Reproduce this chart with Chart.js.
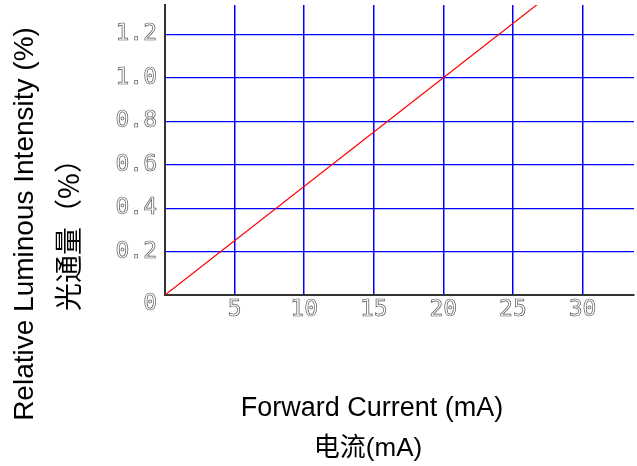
<!DOCTYPE html>
<html>
<head>
<meta charset="utf-8">
<script src="https://cdn.jsdelivr.net/npm/chart.js@4/dist/chart.umd.min.js"></script>
<style>
  html, body { margin: 0; padding: 0; background: #fff; }
  #wrap { width: 637px; height: 466px; }
</style>
</head>
<body>
<div id="wrap"><canvas id="chart" width="637" height="466"></canvas></div>
<script>
// Forward current (mA) vs relative luminous intensity
const currentMA = [0, 20, 28];
const intensity = [0, 1.0, 1.4];

// axis ranges and ticks
const xMax = 33.7;
const yMax = 1.335;
const xTickValues = [5, 10, 15, 20, 25, 30];
const yTickValues = [0, 0.2, 0.4, 0.6, 0.8, 1.0, 1.2];

// titles
const xTitle = ['Forward Current (mA)', '电流(mA)'];
const yTitle = ['Relative Luminous Intensity (%)', '光通量（%）'];

// draws the two-line titles under and left of the plot
const axisTitles = {
  id: 'axisTitles',
  afterDraw(chart) {
    const ctx = chart.ctx;
    ctx.save();
    ctx.fillStyle = '#000';
    ctx.textAlign = 'center';
    ctx.textBaseline = 'alphabetic';
    ctx.font = '27px "Liberation Sans", Arial, sans-serif';
    ctx.fillText(xTitle[0], 372, 416);
    ctx.font = '26px "Liberation Sans", "Noto Sans CJK SC", sans-serif';
    ctx.fillText(xTitle[1], 368, 456);
    ctx.restore();

    ctx.save();
    ctx.fillStyle = '#000';
    ctx.textAlign = 'center';
    ctx.textBaseline = 'alphabetic';
    ctx.translate(33, 224);
    ctx.rotate(-Math.PI / 2);
    ctx.font = '28px "Liberation Sans", Arial, sans-serif';
    ctx.fillText(yTitle[0], 0, 0);
    ctx.restore();

    ctx.save();
    ctx.fillStyle = '#000';
    ctx.textAlign = 'center';
    ctx.textBaseline = 'middle';
    ctx.translate(68, 228);
    ctx.rotate(-Math.PI / 2);
    ctx.font = '28px "Noto Sans CJK SC", sans-serif';
    ctx.fillText(yTitle[1], 0, 0);
    ctx.restore();
  }
};

const tickFont = { family: '"DejaVu Sans Mono", monospace', size: 23, lineHeight: 0.8 };

new Chart(document.getElementById('chart'), {
  type: 'line',
  data: {
    datasets: [{
      data: currentMA.map((x, i) => ({ x: x, y: intensity[i] })),
      borderColor: '#ff0000',
      borderWidth: 1.2,
      pointRadius: 0,
      tension: 0
    }]
  },
  options: {
    responsive: false,
    animation: false,
    layout: { padding: { top: 5, right: 3, left: 0, bottom: 0 } },
    plugins: {
      legend: { display: false },
      tooltip: { enabled: false }
    },
    scales: {
      x: {
        type: 'linear',
        min: 0,
        max: xMax,
        afterBuildTicks: s => { s.ticks = xTickValues.map(v => ({ value: v })); },
        afterFit: s => {
          s.height = 171;
          s.paddingLeft = 0; s.paddingRight = 0;
        },
        grid: { color: '#0000ff', lineWidth: 1.5, drawTicks: false },
        border: { color: '#333', width: 2 },
        ticks: {
          font: tickFont,
          color: 'rgba(0,0,0,0)',
          textStrokeColor: '#555',
          textStrokeWidth: 0.7,
          padding: 6,
          maxRotation: 0,
          autoSkip: false
        }
      },
      y: {
        type: 'linear',
        min: 0,
        max: yMax,
        afterBuildTicks: s => { s.ticks = yTickValues.map(v => ({ value: v })); },
        afterFit: s => {
          s.width = 165;
          s.paddingTop = 0; s.paddingBottom = 0;
        },
        grid: {
          color: c => (c.tick && c.tick.value === 0) ? 'rgba(0,0,0,0)' : '#0000ff',
          lineWidth: 1.2,
          drawTicks: false
        },
        border: { color: '#333', width: 2 },
        ticks: {
          font: tickFont,
          color: 'rgba(0,0,0,0)',
          textStrokeColor: '#555',
          textStrokeWidth: 0.7,
          padding: 8,
          autoSkip: false,
          callback: v => v === 0 ? ['', '0'] : v.toFixed(1)
        }
      }
    }
  },
  plugins: [axisTitles]
});
</script>
</body>
</html>
